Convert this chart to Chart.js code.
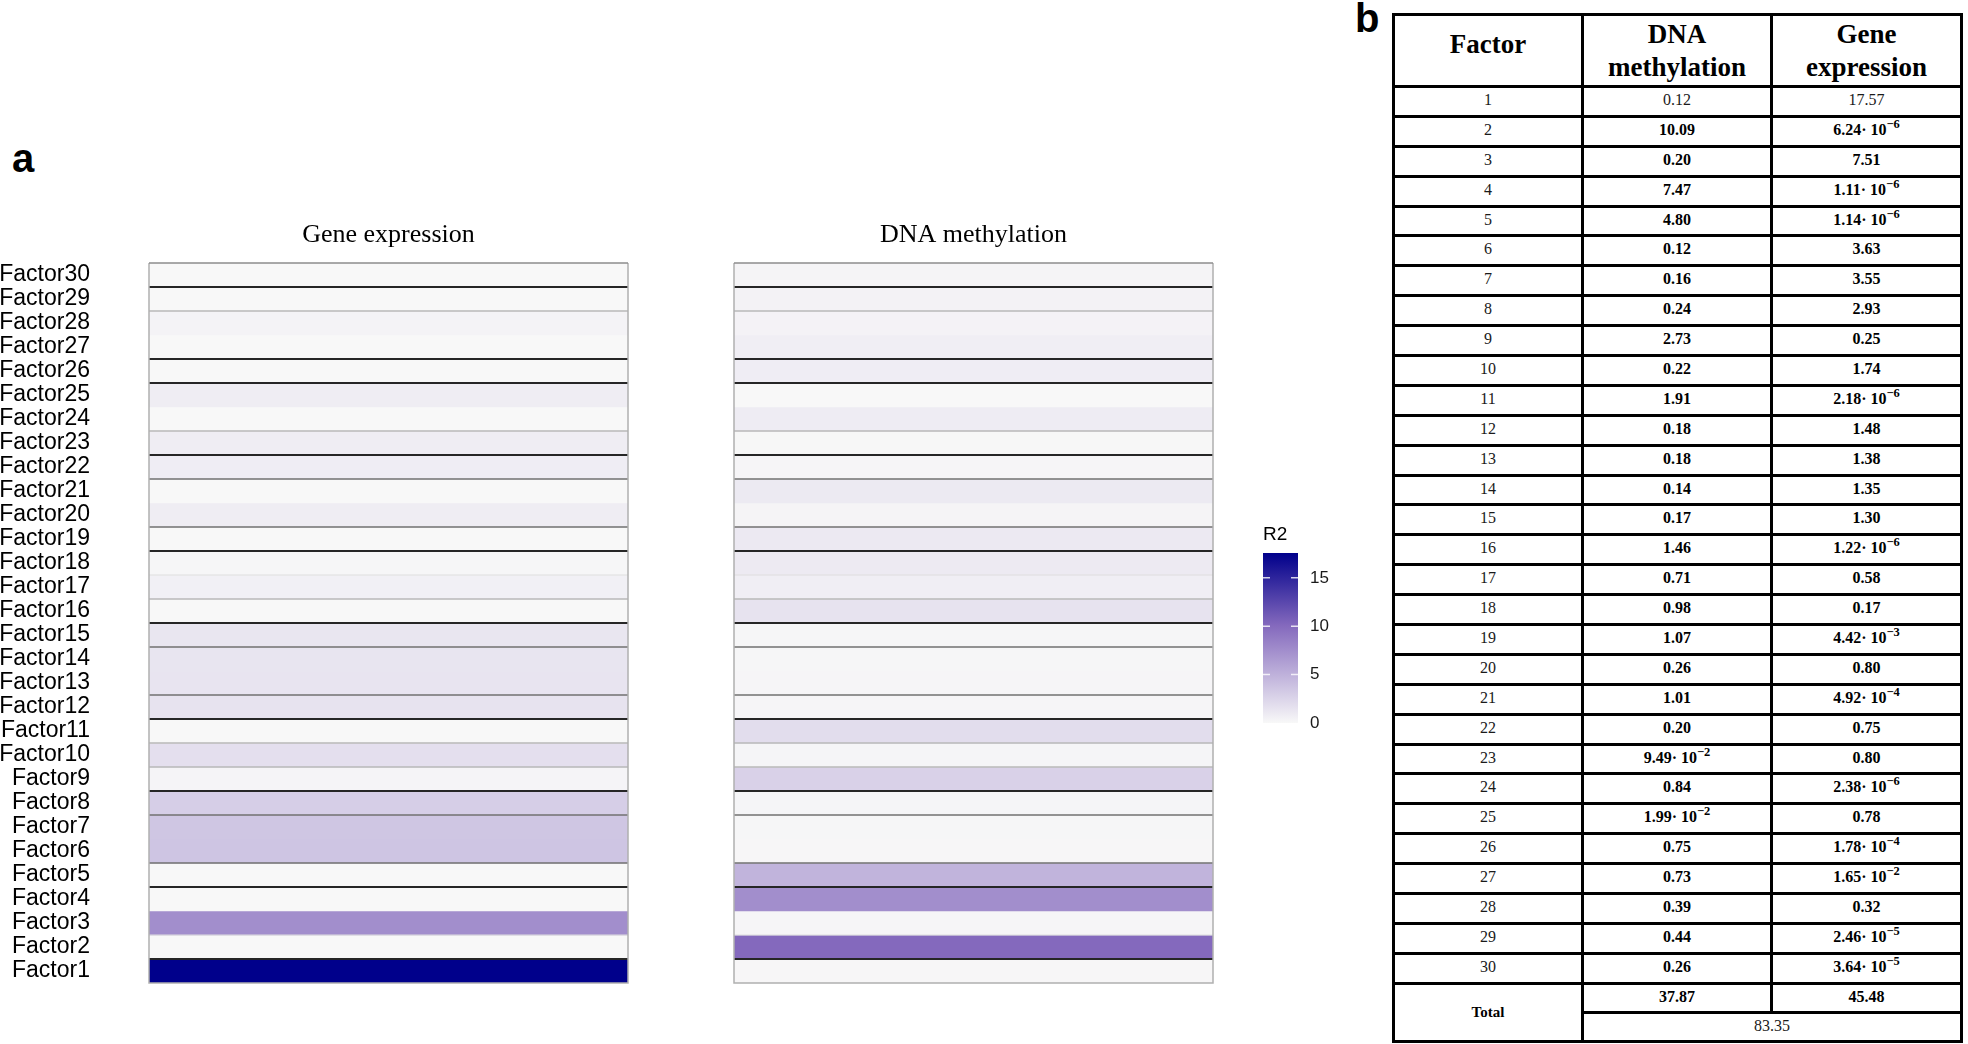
<!DOCTYPE html>
<html>
<head>
<meta charset="utf-8">
<script src="https://cdn.jsdelivr.net/npm/chart.js"></script>
<style>
  html, body { margin:0; padding:0; background:#fff; }
  #page { position:relative; width:1968px; height:1044px; overflow:hidden; background:#fff; }
  .box { position:absolute; }
  .panelTag { position:absolute; font-family:'Liberation Sans', Arial, sans-serif; font-weight:bold; font-size:40px; line-height:40px; color:#000; }
  #tbl { position:absolute; left:1392px; top:13px; width:568px; border-collapse:collapse; table-layout:fixed;
         font-family:'Liberation Serif', 'Times New Roman', serif; color:#000; }
  #tbl td, #tbl th { border:3px solid #000; text-align:center; padding:0; overflow:hidden; }
  #tbl th { font-size:27px; font-weight:bold; line-height:33px; vertical-align:middle; }
  #tbl th.f { padding-bottom:12px; }
  #tbl td { font-size:16px; line-height:20px; vertical-align:top; padding-top:2px; }
  #tbl td.num { font-weight:normal; color:#1a1a1a; }
  #tbl td.b { font-weight:bold; }
  #tbl td.tot { font-weight:bold; font-size:15px; vertical-align:middle; padding-top:0; }
  #tbl sup { font-size:0.78em; line-height:0; vertical-align:0.55em; }
</style>
</head>
<body>
<div id="page">
  <div class="panelTag" style="left:12px; top:138px;">a</div>
  <div class="panelTag" style="left:1355px; top:-2px;">b</div>
  <div class="box" style="left:0px; top:200px; width:640px; height:800px;"><canvas id="geneChart"></canvas></div>
  <div class="box" style="left:660px; top:200px; width:560px; height:800px;"><canvas id="dnaChart"></canvas></div>
  <div class="box" style="left:1240px; top:500px; width:120px; height:240px;"><canvas id="legendChart"></canvas></div>
  <table id="tbl"></table>
</div>
<script>
// ---------------- data ----------------
const factorIds = [1,2,3,4,5,6,7,8,9,10,11,12,13,14,15,16,17,18,19,20,21,22,23,24,25,26,27,28,29,30];
const factorLabels = factorIds.map(i => 'Factor' + i);
const dnaMethylation = [0.12, 10.09, 0.20, 7.47, 4.80, 0.12, 0.16, 0.24, 2.73, 0.22,
                        1.91, 0.18, 0.18, 0.14, 0.17, 1.46, 0.71, 0.98, 1.07, 0.26,
                        1.01, 0.20, 9.49e-2, 0.84, 1.99e-2, 0.75, 0.73, 0.39, 0.44, 0.26];
const geneExpression = [17.57, 6.24e-6, 7.51, 1.11e-6, 1.14e-6, 3.63, 3.55, 2.93, 0.25, 1.74,
                        2.18e-6, 1.48, 1.38, 1.35, 1.30, 1.22e-6, 0.58, 0.17, 4.42e-3, 0.80,
                        4.92e-4, 0.75, 0.80, 2.38e-6, 0.78, 1.78e-4, 1.65e-2, 0.32, 2.46e-5, 3.64e-5];
const totalDNA = 37.87;
const totalGene = 45.48;
const totalAll = 83.35;
const panelTitles = ['Gene expression', 'DNA methylation'];
const legendTitle = 'R2';
const legendTicks = [0, 5, 10, 15];

// ---------------- styles ----------------
const colourStops = [ {f:0, c:[248,248,248]}, {f:0.574, c:[132,105,189]}, {f:1, c:[0,0,139]} ];
// darkness of the rule under each factor row (index = factor - 1)
const ruleUnderRow = [0, 3, 0.5, 0, 3, 2, 0, 2, 3, 1, 1, 3, 2, 0, 2, 3, 1, 0.5, 3, 2, 0, 2, 3, 1, 0, 3, 3, 0, 1, 3];
const ruleLook = { 3:{c:'#262626', w:2}, 2:{c:'#707070', w:1.5}, 1:{c:'#b8b8b8', w:1.5}, 0.5:{c:'#dedede', w:1} };

const r2Max = Math.max(...dnaMethylation, ...geneExpression);
function rgb(c){ return 'rgb(' + c.map(v => Math.round(v)).join(',') + ')'; }
function colourFor(v){
  const f = Math.max(0, Math.min(1, v / r2Max));
  for (let i = 1; i < colourStops.length; i++) {
    const a = colourStops[i-1], b = colourStops[i];
    if (f <= b.f) {
      const t = (f - a.f) / (b.f - a.f);
      return rgb(a.c.map((x, k) => x + (b.c[k] - x) * t));
    }
  }
  return rgb(colourStops[colourStops.length-1].c);
}

Chart.defaults.font.family = "'Liberation Sans', Arial, sans-serif";
Chart.defaults.color = '#000';

const rulesPlugin = {
  id: 'rowRules',
  afterDatasetsDraw(chart) {
    const ctx = chart.ctx, a = chart.chartArea, y = chart.scales.y;
    ctx.save();
    for (let k = 2; k <= factorIds.length; k++) {
      const lv = ruleUnderRow[k-1];
      if (!lv) continue;
      const st = ruleLook[lv];
      const py = (y.getPixelForTick(k-1) + y.getPixelForTick(k-2)) / 2;
      ctx.strokeStyle = st.c; ctx.lineWidth = st.w;
      ctx.beginPath(); ctx.moveTo(a.left, py); ctx.lineTo(a.right, py); ctx.stroke();
    }
    ctx.lineWidth = 1.5;
    ctx.strokeStyle = '#b0b0b0';
    ctx.beginPath();
    ctx.moveTo(a.left, a.top); ctx.lineTo(a.left, a.bottom); ctx.lineTo(a.right, a.bottom); ctx.lineTo(a.right, a.top);
    ctx.stroke();
    ctx.strokeStyle = '#8c8c8c';
    ctx.beginPath(); ctx.moveTo(a.left, a.top); ctx.lineTo(a.right, a.top); ctx.stroke();
    ctx.restore();
  }
};

function heatmap(canvasId, title, values, showLabels, pad) {
  return new Chart(document.getElementById(canvasId), {
    type: 'bar',
    data: {
      labels: factorLabels,
      datasets: [{
        data: values.map(() => [0, 1]),
        backgroundColor: values.map(colourFor),
        borderWidth: 0,
        barPercentage: 1,
        categoryPercentage: 1
      }]
    },
    options: {
      indexAxis: 'y',
      responsive: true,
      maintainAspectRatio: false,
      animation: false,
      layout: { padding: pad },
      plugins: {
        legend: { display: false },
        tooltip: { enabled: false },
        title: {
          display: true, text: title, fullSize: false, color: '#000',
          font: { family: "'Liberation Serif', 'Times New Roman', serif", size: 26, weight: 'normal' },
          padding: { top: 20, bottom: 11.8 }
        }
      },
      scales: {
        x: { display: false, min: 0, max: 1 },
        y: {
          display: showLabels,
          reverse: true,
          grid: { display: false, drawTicks: false },
          border: { display: false },
          ticks: { autoSkip: false, color: '#000', padding: 59,
                   font: { family: "'Liberation Sans', Arial, sans-serif", size: 23 } },
          afterFit: s => {
            if (showLabels) s.width = 149;
            s.paddingTop = 0; s.paddingBottom = 0;
          }
        }
      }
    },
    plugins: [rulesPlugin]
  });
}

heatmap('geneChart', panelTitles[0], geneExpression, true, { left: 0, right: 12, top: 0, bottom: 17 });
heatmap('dnaChart', panelTitles[1], dnaMethylation, false, { left: 74, right: 7, top: 0, bottom: 17 });

const legendMarks = {
  id: 'legendMarks',
  afterDatasetsDraw(chart) {
    const ctx = chart.ctx, a = chart.chartArea, y = chart.scales.y;
    ctx.save();
    ctx.strokeStyle = 'rgba(255,255,255,0.8)';
    ctx.lineWidth = 1.5;
    legendTicks.forEach(v => {
      if (v <= 0) return;
      const py = y.getPixelForValue(v);
      ctx.beginPath();
      ctx.moveTo(a.left, py); ctx.lineTo(a.left + 7, py);
      ctx.moveTo(a.right - 7, py); ctx.lineTo(a.right, py);
      ctx.stroke();
    });
    ctx.restore();
  }
};

new Chart(document.getElementById('legendChart'), {
  type: 'bar',
  data: {
    labels: [legendTitle],
    datasets: [{
      data: [[0, r2Max]],
      backgroundColor: (c) => {
        const ch = c.chart;
        if (!ch.chartArea) return '#ffffff';
        const ys = ch.scales.y;
        const g = ch.ctx.createLinearGradient(0, ys.getPixelForValue(0), 0, ys.getPixelForValue(r2Max));
        colourStops.forEach(s => g.addColorStop(s.f, rgb(s.c)));
        return g;
      },
      borderWidth: 0,
      barPercentage: 1,
      categoryPercentage: 1
    }]
  },
  options: {
    responsive: true,
    maintainAspectRatio: false,
    animation: false,
    layout: { padding: { left: 23, right: 0, top: 0, bottom: 17 } },
    plugins: {
      legend: { display: false },
      tooltip: { enabled: false },
      title: {
        display: true, text: legendTitle, align: 'start', fullSize: false, color: '#000',
        font: { family: "'Liberation Sans', Arial, sans-serif", size: 19, weight: 'normal' },
        padding: { top: 23.6, bottom: 6.6 }
      }
    },
    scales: {
      x: { display: false },
      y: {
        position: 'right', min: 0, max: r2Max,
        afterBuildTicks: s => { s.ticks = legendTicks.map(v => ({ value: v })); },
        grid: { display: false, drawTicks: false },
        border: { display: false },
        ticks: { color: '#1a1a1a', padding: 12, font: { family: "'Liberation Sans', Arial, sans-serif", size: 17 } },
        afterFit: s => { s.width = 62; s.paddingTop = 0; s.paddingBottom = 0; }
      }
    }
  },
  plugins: [legendMarks]
});

// ---------------- table ----------------
function fmt(v) {
  if (v >= 0.1) return v.toFixed(2);
  const e = Math.floor(Math.log10(v));
  const m = v / Math.pow(10, e);
  return m.toFixed(2) + '\u00b7 10<sup>\u2212' + Math.abs(e) + '</sup>';
}
const tbl = document.getElementById('tbl');
let html = '<colgroup><col style="width:189px"><col style="width:189px"><col style="width:190px"></colgroup>';
html += '<tr style="height:72px"><th class="f">Factor</th><th>DNA<br>methylation</th><th>Gene<br>expression</th></tr>';
factorIds.forEach((id, i) => {
  const cls = i === 0 ? 'num' : 'b';
  html += '<tr style="height:29.9px"><td class="num">' + id + '</td><td class="' + cls + '">' + fmt(dnaMethylation[i]) +
          '</td><td class="' + cls + '">' + fmt(geneExpression[i]) + '</td></tr>';
});
html += '<tr style="height:29px"><td class="tot" rowspan="2">Total</td><td class="b">' + totalDNA.toFixed(2) +
        '</td><td class="b">' + totalGene.toFixed(2) + '</td></tr>';
html += '<tr style="height:29px"><td class="num" colspan="2">' + totalAll.toFixed(2) + '</td></tr>';
tbl.innerHTML = html;
</script>
</body>
</html>
